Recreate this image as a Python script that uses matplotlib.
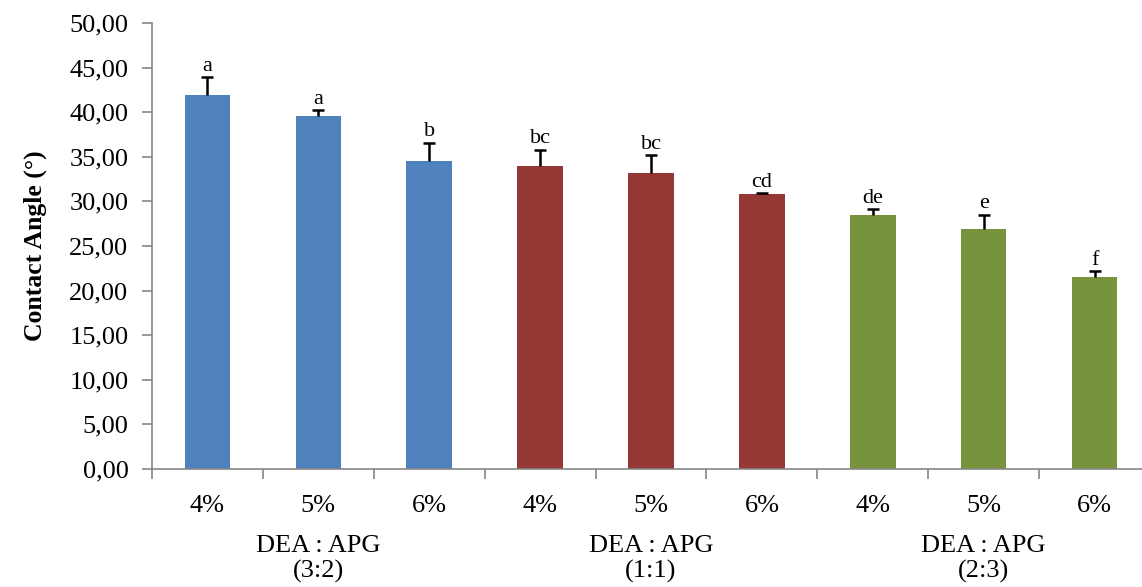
import numpy as np
import matplotlib.pyplot as plt
from matplotlib.ticker import FuncFormatter, FixedLocator

conc = ["4%", "5%", "6%", "4%", "5%", "6%", "4%", "5%", "6%"]
groups = ["DEA : APG\n(3:2)", "DEA : APG\n(1:1)", "DEA : APG\n(2:3)"]
angle = [41.9, 39.6, 34.5, 34.0, 33.2, 30.8, 28.5, 26.9, 21.5]
err = [2.0, 0.6, 2.1, 1.8, 2.0, 0.1, 0.6, 1.6, 0.7]
letters = ["a", "a", "b", "bc", "bc", "cd", "de", "e", "f"]
colors = ["#4F81BD"] * 3 + ["#953735"] * 3 + ["#77933C"] * 3

plt.rcParams["font.family"] = "Liberation Serif"

fig = plt.figure(figsize=(11.42, 5.87), dpi=100)
ax = fig.add_axes([152 / 1142, 118 / 587, 998 / 1142, 446 / 587])

x = np.arange(len(angle))
ax.bar(x, angle, width=0.41, color=colors, zorder=2)
eb = ax.errorbar(x, angle, yerr=[np.zeros(len(err)), err], fmt="none",
                 ecolor="black", elinewidth=1.8, capsize=4.5, capthick=1.8, zorder=3)
# only the upper cap is shown
eb[1][0].set_visible(False)
for xi, yi, ei, lab in zip(x, angle, err, letters):
    ax.annotate(lab, (xi, yi + ei), xytext=(0, 1), textcoords="offset points",
                ha="center", va="bottom", fontsize=16)

ax.set_xlim(-0.5, len(angle) - 0.5)
ax.set_ylim(0, 50)
ax.set_yticks(np.arange(0, 51, 5))
ax.yaxis.set_major_formatter(FuncFormatter(lambda v, p: f"{v:.2f}".replace(".", ",")))
ax.set_ylabel("Contact Angle (°)", fontsize=18.5, fontweight="bold", labelpad=16)

ax.xaxis.set_major_locator(FixedLocator(np.arange(-0.5, len(angle), 1)))
ax.set_xticklabels([])
ax.xaxis.set_minor_locator(FixedLocator(x))
ax.set_xticklabels(conc, minor=True)
ax.tick_params(axis="x", which="minor", length=0, labelsize=19, pad=19)
ax.tick_params(axis="x", which="major", length=7, color="#868686", width=1.2)
ax.tick_params(axis="y", length=7, color="#868686", width=1.2, labelsize=19, pad=10)

for i, g in enumerate(groups):
    ax.text(3 * i + 1, -0.148, g, transform=ax.get_xaxis_transform(),
            ha="center", va="top", fontsize=19, linespacing=1.18)

for s in ["top", "right"]:
    ax.spines[s].set_visible(False)
for s in ["left", "bottom"]:
    ax.spines[s].set_color("#868686")
    ax.spines[s].set_linewidth(1.2)

fig.savefig("out.png", dpi=100)
